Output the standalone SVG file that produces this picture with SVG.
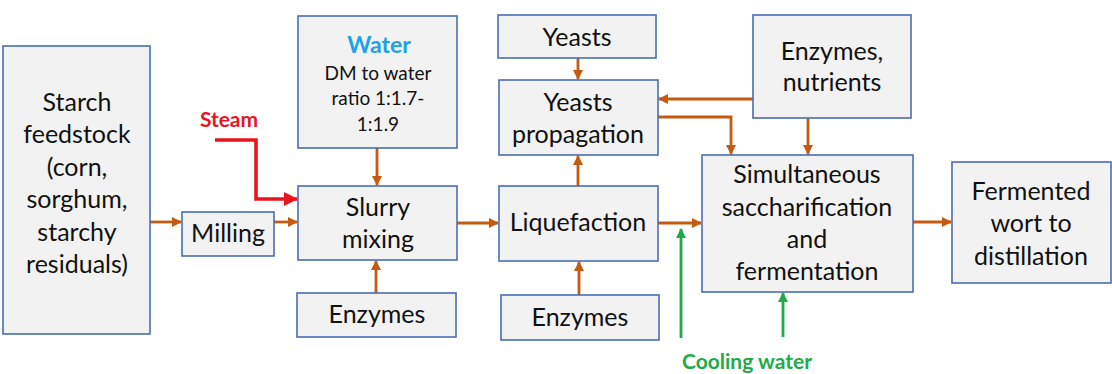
<svg xmlns="http://www.w3.org/2000/svg" width="1112" height="374" viewBox="0 0 1112 374">
<style>
.box{fill:#f2f2f2;stroke:#4a6db3;stroke-width:1.6}
.t{font-family:Lato,"Open Sans","DejaVu Sans",sans-serif;font-size:25px;fill:#111;text-anchor:middle}
.s{font-size:19px}
.o{fill:none;stroke:#c55a11;stroke-width:2.8}
.g{fill:none;stroke:#22aa4a;stroke-width:2.8}
</style>
<defs>
<marker id="ao" markerWidth="10" markerHeight="10" refX="9" refY="5" orient="auto" markerUnits="userSpaceOnUse"><path d="M0,0 L10,5 L0,10 Z" fill="#c55a11"/></marker>
<marker id="ag" markerWidth="10" markerHeight="10" refX="9" refY="5" orient="auto" markerUnits="userSpaceOnUse"><path d="M0,0 L10,5 L0,10 Z" fill="#22aa4a"/></marker>
<marker id="ar" markerWidth="14" markerHeight="14" refX="13" refY="7" orient="auto" markerUnits="userSpaceOnUse"><path d="M0,0 L14,7 L0,14 Z" fill="#e8141e"/></marker>
</defs>
<g id="connectors">
<path class="o" d="M150,222 H181" marker-end="url(#ao)"/>
<path class="o" d="M274,222 H297" marker-end="url(#ao)"/>
<path class="o" d="M377,148 V185" marker-end="url(#ao)"/>
<path class="o" d="M376,293 V261" marker-end="url(#ao)"/>
<path class="o" d="M457,223 H498" marker-end="url(#ao)"/>
<path class="o" d="M578,58 V79" marker-end="url(#ao)"/>
<path class="o" d="M578,186 V156" marker-end="url(#ao)"/>
<path class="o" d="M579,295 V262" marker-end="url(#ao)"/>
<path class="o" d="M658,223 H701" marker-end="url(#ao)"/>
<path class="o" d="M753,99 H659" marker-end="url(#ao)"/>
<path class="o" d="M658,117 H731 V154" marker-end="url(#ao)"/>
<path class="o" d="M808,118 V154" marker-end="url(#ao)"/>
<path class="o" d="M913,222 H951" marker-end="url(#ao)"/>
<path class="g" d="M681,338 V229" marker-end="url(#ag)"/>
<path class="g" d="M783,337 V293" marker-end="url(#ag)"/>
<path d="M215,140 H256 V199 H297" fill="none" stroke="#e8141e" stroke-width="3.6" marker-end="url(#ar)"/>
</g>
<g id="starch"><rect class="box" x="3" y="46" width="147" height="288"/>
<text class="t"><tspan x="77" y="111">Starch</tspan><tspan x="77" y="143">feedstock</tspan><tspan x="77" y="176">(corn,</tspan><tspan x="77" y="208">sorghum,</tspan><tspan x="77" y="241">starchy</tspan><tspan x="77" y="273">residuals)</tspan></text></g>
<g id="milling"><rect class="box" x="182" y="212" width="92" height="44"/><text class="t" x="228" y="242">Milling</text></g>
<g id="water"><rect class="box" x="298" y="16" width="159" height="132"/>
<text class="t" x="379" y="53" style="font-weight:bold;fill:#1fa3e3;font-size:23px">Water</text>
<text class="t s"><tspan x="378" y="80">DM to water</tspan><tspan x="378" y="105">ratio 1:1.7-</tspan><tspan x="378" y="131">1:1.9</tspan></text></g>
<g id="slurry"><rect class="box" x="298" y="186" width="159" height="74"/>
<text class="t"><tspan x="378" y="216">Slurry</tspan><tspan x="378" y="248">mixing</tspan></text></g>
<g id="enzymes1"><rect class="box" x="297" y="293" width="159" height="44"/><text class="t" x="377" y="323">Enzymes</text></g>
<g id="yeasts"><rect class="box" x="498" y="15" width="158" height="43"/><text class="t" x="577" y="46">Yeasts</text></g>
<g id="yprop"><rect class="box" x="499" y="80" width="159" height="75"/>
<text class="t"><tspan x="578" y="111">Yeasts</tspan><tspan x="578" y="143">propagation</tspan></text></g>
<g id="liq"><rect class="box" x="499" y="186" width="159" height="75"/><text class="t" x="578" y="231">Liquefaction</text></g>
<g id="enzymes2"><rect class="box" x="501" y="295" width="158" height="45"/><text class="t" x="580" y="326">Enzymes</text></g>
<g id="enznut"><rect class="box" x="753" y="15" width="158" height="103"/>
<text class="t"><tspan x="832" y="60">Enzymes,</tspan><tspan x="832" y="91">nutrients</tspan></text></g>
<g id="ssf"><rect class="box" x="702" y="155" width="211" height="137"/>
<text class="t"><tspan x="807" y="183">Simultaneous</tspan><tspan x="807" y="216">saccharification</tspan><tspan x="807" y="248">and</tspan><tspan x="807" y="280">fermentation</tspan></text></g>
<g id="wort"><rect class="box" x="952" y="162" width="159" height="121"/>
<text class="t"><tspan x="1031" y="200">Fermented</tspan><tspan x="1031" y="232">wort to</tspan><tspan x="1031" y="265">distillation</tspan></text></g>
<g id="labels">
<text class="t" x="229" y="127" style="font-weight:bold;fill:#e8141e;font-size:21px">Steam</text>
<text class="t" x="747" y="369" style="font-weight:bold;fill:#22aa4a;font-size:21px">Cooling water</text>
</g>
</svg>
